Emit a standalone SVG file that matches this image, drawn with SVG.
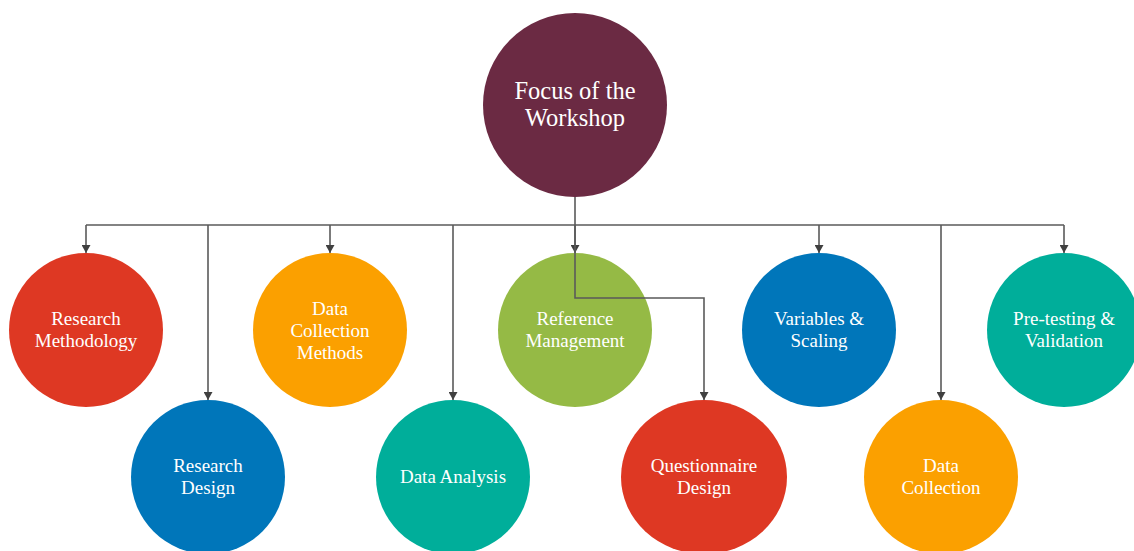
<svg xmlns="http://www.w3.org/2000/svg" width="1134" height="551" viewBox="0 0 1134 551">
<style>
.t{font-family:"Liberation Serif","Times New Roman",serif;fill:#fff;text-anchor:middle;font-size:19px}
.big{font-size:24.5px}
.c{fill:none;stroke:#5a5a5a;stroke-width:1.6}
</style>
<defs>
<marker id="a" markerUnits="userSpaceOnUse" markerWidth="10" markerHeight="9" refX="9" refY="5" orient="auto" viewBox="0 0 9 10">
<path d="M0,0 L9,5 L0,10 Z" fill="#404040"/>
</marker>
</defs>
<rect width="1134" height="551" fill="#fff"/>
<g id="focus"><circle cx="575" cy="105" r="92" fill="#6B2A43"/><text class="t big" x="575" y="99">Focus of the</text><text class="t big" x="575" y="126">Workshop</text></g>
<g id="research-methodology"><circle cx="86" cy="330" r="77" fill="#DE3823"/><text class="t" x="86" y="325">Research</text><text class="t" x="86" y="347">Methodology</text></g>
<g id="data-collection-methods"><circle cx="330" cy="330" r="77" fill="#FBA000"/><text class="t" x="330" y="315">Data</text><text class="t" x="330" y="337">Collection</text><text class="t" x="330" y="359">Methods</text></g>
<g id="reference-management"><circle cx="575" cy="330" r="77" fill="#95BA45"/><text class="t" x="575" y="325">Reference</text><text class="t" x="575" y="347">Management</text></g>
<g id="variables-scaling"><circle cx="819" cy="330" r="77" fill="#0076BA"/><text class="t" x="819" y="325">Variables &amp;</text><text class="t" x="819" y="347">Scaling</text></g>
<g id="pretesting-validation"><circle cx="1064" cy="330" r="77" fill="#00AE9A"/><text class="t" x="1064" y="325">Pre-testing &amp;</text><text class="t" x="1064" y="347">Validation</text></g>
<g id="research-design"><circle cx="208" cy="477" r="77" fill="#0076BA"/><text class="t" x="208" y="472">Research</text><text class="t" x="208" y="494">Design</text></g>
<g id="data-analysis"><circle cx="453" cy="477" r="77" fill="#00AE9A"/><text class="t" x="453" y="483">Data Analysis</text></g>
<g id="questionnaire-design"><ellipse cx="704" cy="477" rx="83" ry="77" fill="#DE3823"/><text class="t" x="704" y="472">Questionnaire</text><text class="t" x="704" y="494">Design</text></g>
<g id="data-collection"><circle cx="941" cy="477" r="77" fill="#FBA000"/><text class="t" x="941" y="472">Data</text><text class="t" x="941" y="494">Collection</text></g>
<g id="connectors">
<path class="c" d="M575,197 V225"/>
<path class="c" d="M86,225 H1064"/>
<path class="c" d="M86,225 V253" marker-end="url(#a)"/>
<path class="c" d="M330,225 V253" marker-end="url(#a)"/>
<path class="c" d="M575,225 V253" marker-end="url(#a)"/>
<path class="c" d="M819,225 V253" marker-end="url(#a)"/>
<path class="c" d="M1064,225 V253" marker-end="url(#a)"/>
<path class="c" d="M208,225 V400" marker-end="url(#a)"/>
<path class="c" d="M453,225 V400" marker-end="url(#a)"/>
<path class="c" d="M941,225 V400" marker-end="url(#a)"/>
<path class="c" d="M575,225 V298 H704 V400" marker-end="url(#a)"/>
</g>
</svg>
